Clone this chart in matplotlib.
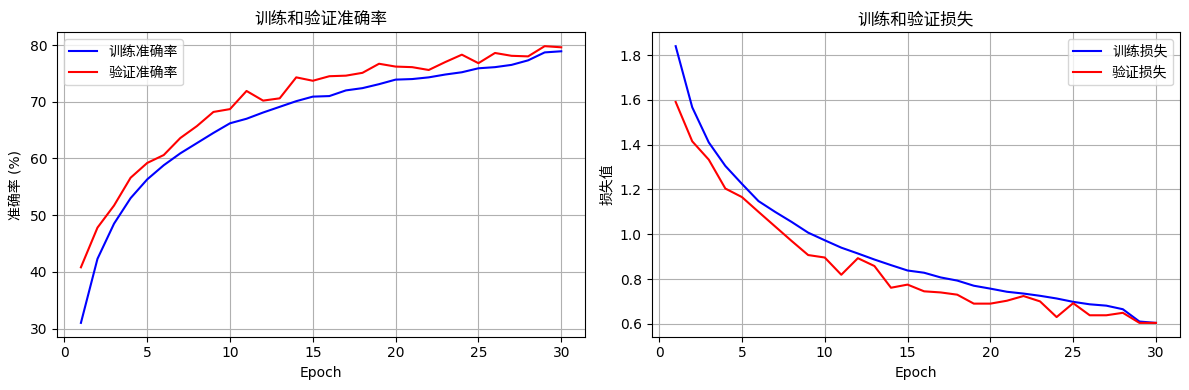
import matplotlib
matplotlib.use("Agg")
import matplotlib.pyplot as plt

# DejaVu for digits and latin text, Noto CJK for the Chinese characters
plt.rcParams['font.family'] = ['DejaVu Sans', 'Noto Sans CJK SC']
plt.rcParams['axes.unicode_minus'] = False

epochs = list(range(1, 31))

# 准确率 (%)
train_acc = [31.0, 42.3, 48.5, 53.0, 56.3, 58.8, 60.9, 62.7, 64.5, 66.2,
             67.0, 68.1, 69.1, 70.1, 70.9, 71.0, 72.0, 72.4, 73.1, 73.9,
             74.0, 74.3, 74.8, 75.2, 75.9, 76.1, 76.5, 77.3, 78.7, 78.9]
val_acc = [40.8, 47.8, 51.7, 56.6, 59.2, 60.6, 63.6, 65.7, 68.2, 68.7,
           71.9, 70.2, 70.6, 74.3, 73.7, 74.5, 74.6, 75.1, 76.7, 76.2,
           76.1, 75.6, 77.0, 78.3, 76.8, 78.6, 78.1, 78.0, 79.8, 79.6]

# 损失值
train_loss = [1.84, 1.567, 1.41, 1.305, 1.225, 1.148, 1.10, 1.055, 1.007, 0.973,
              0.94, 0.914, 0.887, 0.862, 0.838, 0.828, 0.807, 0.793, 0.770, 0.757,
              0.743, 0.735, 0.725, 0.713, 0.698, 0.687, 0.681, 0.665, 0.610, 0.604]
val_loss = [1.591, 1.415, 1.333, 1.204, 1.166, 1.10, 1.035, 0.97, 0.907, 0.896,
            0.819, 0.893, 0.858, 0.761, 0.775, 0.745, 0.740, 0.730, 0.690, 0.690,
            0.703, 0.724, 0.700, 0.630, 0.692, 0.638, 0.638, 0.649, 0.604, 0.604]

fig, (ax1, ax2) = plt.subplots(1, 2, figsize=(12, 4), dpi=100)

ax1.plot(epochs, train_acc, 'b-', label='训练准确率')
ax1.plot(epochs, val_acc, 'r-', label='验证准确率')
ax1.set_title('训练和验证准确率')
ax1.set_xlabel('Epoch')
ax1.set_ylabel('准确率 (%)')
ax1.legend()
ax1.grid(True)

ax2.plot(epochs, train_loss, 'b-', label='训练损失')
ax2.plot(epochs, val_loss, 'r-', label='验证损失')
ax2.set_title('训练和验证损失')
ax2.set_xlabel('Epoch')
ax2.set_ylabel('损失值')
ax2.legend()
ax2.grid(True)

plt.tight_layout()
plt.savefig('out.png', bbox_inches='tight')
